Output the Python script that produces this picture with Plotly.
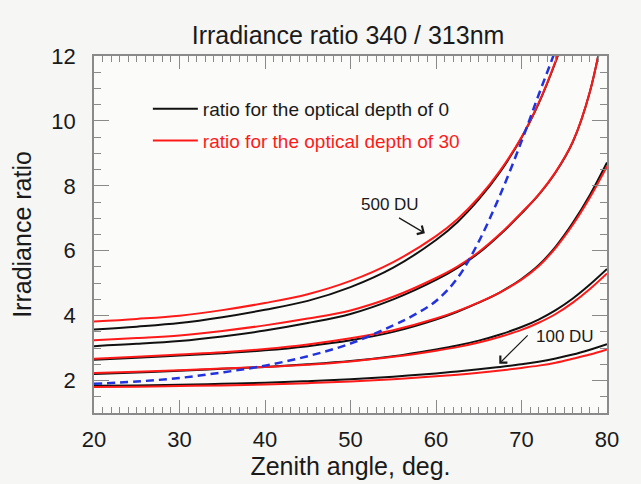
import plotly.graph_objects as go

# Zenith angles (deg)
angles = [20, 25, 30, 35, 40, 45, 50, 55, 60, 62.5, 65, 67.5, 70, 72, 74, 76, 78, 80]

# Optical depth 0 (black), total ozone 500 ... 100 DU
du500_tau0 = [3.57, 3.66, 3.77, 3.95, 4.18, 4.455, 4.88, 5.48, 6.33, 6.88, 7.58, 8.43, 9.48, 10.53, 11.83, 13.38, 15.2, 17.3]
du400_tau0 = [3.06, 3.13, 3.22, 3.36, 3.54, 3.77, 4.05, 4.50, 5.10, 5.47, 5.93, 6.50, 7.15, 7.72, 8.42, 9.35, 10.9, 13.4]
du300_tau0 = [2.64, 2.70, 2.77, 2.84, 2.93, 3.06, 3.24, 3.50, 3.88, 4.12, 4.40, 4.72, 5.13, 5.55, 6.13, 6.86, 7.72, 8.72]
du200_tau0 = [2.20, 2.25, 2.30, 2.36, 2.42, 2.50, 2.60, 2.75, 2.96, 3.08, 3.23, 3.42, 3.65, 3.88, 4.17, 4.53, 4.96, 5.44]
du100_tau0 = [1.84, 1.85, 1.87, 1.90, 1.93, 1.98, 2.04, 2.12, 2.22, 2.28, 2.35, 2.42, 2.50, 2.58, 2.68, 2.80, 2.95, 3.12]

# Optical depth 30 (red)
du500_tau30 = [3.82, 3.90, 4.00, 4.17, 4.39, 4.66, 5.07, 5.65, 6.45, 6.97, 7.64, 8.47, 9.50, 10.55, 11.85, 13.4, 15.2, 17.3]
du400_tau30 = [3.24, 3.31, 3.39, 3.53, 3.70, 3.91, 4.16, 4.58, 5.16, 5.51, 5.96, 6.52, 7.17, 7.73, 8.43, 9.36, 10.9, 13.4]
du300_tau30 = [2.67, 2.73, 2.80, 2.87, 2.97, 3.11, 3.30, 3.55, 3.91, 4.14, 4.41, 4.72, 5.11, 5.52, 6.09, 6.80, 7.64, 8.60]
du200_tau30 = [2.23, 2.27, 2.32, 2.37, 2.42, 2.49, 2.59, 2.73, 2.92, 3.03, 3.17, 3.35, 3.56, 3.78, 4.05, 4.40, 4.82, 5.30]
du100_tau30 = [1.80, 1.81, 1.83, 1.85, 1.88, 1.92, 1.97, 2.04, 2.13, 2.18, 2.24, 2.31, 2.39, 2.46, 2.55, 2.67, 2.80, 2.96]

# Blue dashed curve
blue_angles = [20, 25, 30, 35, 40, 45, 50, 55, 57.5, 60, 62.5, 65, 67.5, 70, 72, 74, 76]
blue_ratio = [1.90, 1.97, 2.08, 2.25, 2.46, 2.75, 3.14, 3.70, 4.03, 4.45, 5.15, 6.28, 7.72, 9.37, 10.8, 12.2, 13.7]

black_series = [du500_tau0, du400_tau0, du300_tau0, du200_tau0, du100_tau0]
red_series = [du500_tau30, du400_tau30, du300_tau30, du200_tau30, du100_tau30]

legend_labels = ["ratio for the optical depth of 0", "ratio for the optical depth of 30"]

FONT = "Liberation Sans, Arial, sans-serif"
TXT = "#1a1a1a"
BLACK = "#111111"
RED = "#ff1a1a"
BLUE = "#2233dd"
AXC = "#8a8a8a"

fig = go.Figure()

for i, ys in enumerate(black_series):
    fig.add_trace(go.Scatter(
        x=angles, y=ys, mode="lines", line=dict(color=BLACK, width=2, shape="spline"),
        name=f"<span style='color:{TXT}'>{legend_labels[0]}</span>",
        showlegend=(i == 0), legendgroup="a"))
for i, ys in enumerate(red_series):
    fig.add_trace(go.Scatter(
        x=angles, y=ys, mode="lines", line=dict(color=RED, width=2, shape="spline"),
        name=f"<span style='color:{RED}'>{legend_labels[1]}</span>",
        showlegend=(i == 0), legendgroup="b"))

fig.add_trace(go.Scatter(
    x=blue_angles, y=blue_ratio, mode="lines",
    line=dict(color=BLUE, width=2.5, dash="8px,5px", shape="spline"),
    showlegend=False))

axis_common = dict(
    showline=True, linecolor=AXC, linewidth=1.5, mirror="allticks",
    ticks="inside", tickcolor=AXC, tickwidth=1.2,
    showgrid=False, zeroline=False,
    tickfont=dict(family=FONT, size=22, color=TXT),
)

fig.update_xaxes(
    range=[20, 80], tick0=20, dtick=10, ticklen=13,
    minor=dict(dtick=1, ticks="inside", ticklen=6, tickcolor=AXC, tickwidth=1),
    ticklabelstandoff=6,
    title=dict(text="Zenith angle, deg.", standoff=2,
               font=dict(family=FONT, size=25, color=TXT)),
    **axis_common)
fig.update_yaxes(
    range=[1, 12], tick0=2, dtick=2, ticklen=15,
    minor=dict(dtick=0.5, ticks="inside", ticklen=7, tickcolor=AXC, tickwidth=1),
    ticklabelstandoff=12,
    title=dict(text="Irradiance ratio", standoff=13,
               font=dict(family=FONT, size=25, color=TXT)),
    **axis_common)

ann_font = dict(family=FONT, size=17, color=TXT)
fig.add_annotation(x=54.6, y=7.43, text="500 DU", showarrow=False, font=ann_font)
fig.add_annotation(x=58.7, y=6.54, ax=55.5, ay=7.04, axref="x", ayref="y",
                   text="", showarrow=True, arrowhead=4, arrowsize=1.6, arrowwidth=1.2,
                   arrowcolor=TXT)
fig.add_annotation(x=75.1, y=3.35, text="100 DU", showarrow=False, font=ann_font)
fig.add_annotation(x=67.4, y=2.52, ax=70.9, ay=3.44, axref="x", ayref="y",
                   text="", showarrow=True, arrowhead=4, arrowsize=1.6, arrowwidth=1.2,
                   arrowcolor=TXT)

fig.update_layout(
    width=641, height=484,
    margin=dict(l=94, r=34, t=56, b=69),
    paper_bgcolor="#f6f6f4", plot_bgcolor="#fbfbf9",
    title=dict(text="Irradiance ratio 340 / 313nm", x=0.543, xanchor="center", y=0.928, yanchor="middle",
               font=dict(family=FONT, size=25, color=TXT)),
    legend=dict(x=0.105, y=0.905, xanchor="left", yanchor="top",
                bgcolor="rgba(0,0,0,0)", tracegroupgap=4,
                font=dict(family=FONT, size=19, color=TXT),
                itemwidth=45),
    showlegend=True,
)

fig.write_html("out.html")
